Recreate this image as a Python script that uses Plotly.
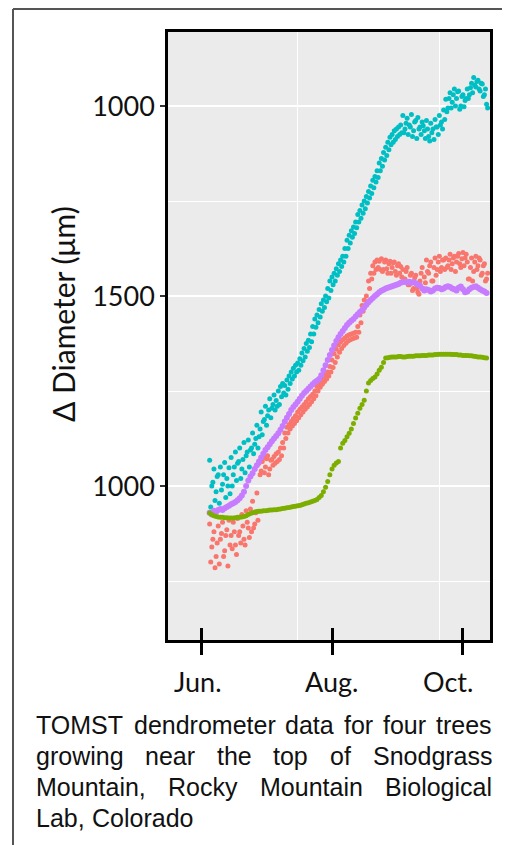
import plotly.graph_objects as go
import pandas as pd

# ---------------- data (one or two readings per day, from Jun 5) ----------------
first_day = "2019-06-05"

teal_hi = [1068, 1000, 1045, 985, 1030, 1050, 1005, 1062, 1020, 1048,
           1075, 1030, 1090, 1060, 1100, 1045, 1115, 1080, 1121, 1095,
           1140, 1110, 1160, 1130, 1195, 1170, 1210, 1185, 1230, 1205,
           1240, 1225, 1250, 1262, 1270, 1265, 1279, 1290, 1300, 1310,
           1318, 1324, 1335, 1350, 1362, 1375, 1384, 1400, 1420, 1440,
           1450, 1465, 1480, 1490, 1500, 1520, 1540, 1550, 1560, 1572,
           1585, 1595, 1605, 1625, 1647, 1660, 1672, 1682, 1695, 1715,
           1725, 1740, 1750, 1762, 1775, 1790, 1805, 1815, 1830, 1850,
           1862, 1878, 1892, 1905, 1918, 1925, 1935, 1940, 1945, 1950,
           1975, 1940, 1968, 1950, 1978, 1935, 1962, 1970, 1945, 1958,
           1935, 1962, 1920, 1955, 1940, 1965, 1945, 1975, 1958, 1990,
           2018, 1995, 2035, 2010, 2045, 2020, 2040, 2000, 2030, 2015,
           2045, 2030, 2060, 2075, 2050, 2068, 2040, 2058, 2030, 2005]
teal_lo = [945, 1010, 962, 1025, 955, 990, 1030, 970, 1000, 980,
           1000, 1050, 1015, 1065, 1020, 1070, 1035, 1090, 1050, 1100,
           1085, 1125, 1100, 1150, 1135, 1175, 1160, 1200, 1180, 1215,
           1200, 1210, 1215, 1235, 1245, 1240, 1255, 1270, 1282, 1290,
           1300, 1305, 1318, 1330, 1340, 1355, 1365, 1380, 1400, 1418,
           1430, 1445, 1460, 1470, 1485, 1495, 1515, 1530, 1540, 1555,
           1565, 1578, 1590, 1605, 1625, 1640, 1655, 1665, 1680, 1695,
           1705, 1718, 1730, 1745, 1758, 1770, 1785, 1800, 1812, 1830,
           1842, 1858, 1870, 1885, 1898, 1905, 1912, 1920, 1925, 1930,
           1930, 1955, 1925, 1945, 1920, 1958, 1915, 1940, 1925, 1948,
           1915, 1940, 1908, 1930, 1912, 1945, 1925, 1950, 1940, 1965,
           1985, 2020, 1995, 2030, 2000, 2038, 1992, 2025, 1998, 2020,
           2020, 2048, 2035, 2055, 2065, 2045, 2060, 2025, 2045, 1995]

red_hi = [900, 840, 880, 815, 895, 860, 905, 830, 885, 910,
          870, 905, 845, 915, 880, 925, 860, 935, 890, 940,
          960, 900, 982, 1060, 1040, 1075, 1050, 1080, 1045, 1070,
          1078, 1085, 1090, 1100, 1115, 1140, 1155, 1162, 1170, 1178,
          1185, 1195, 1202, 1208, 1215, 1222, 1230, 1236, 1242, 1250,
          1262, 1272, 1280, 1287, 1293, 1300, 1315, 1332, 1348, 1360,
          1372, 1380, 1385, 1390, 1395, 1398, 1400, 1402, 1405, 1420,
          1450, 1475, 1490, 1500, 1540, 1560, 1580, 1590, 1595, 1592,
          1598, 1570, 1595, 1560, 1592, 1575, 1590, 1555, 1585, 1578,
          1570, 1545, 1575, 1530, 1560, 1520, 1555, 1510, 1540, 1575,
          1550, 1595, 1560, 1590, 1540, 1600, 1570, 1605, 1575, 1595,
          1600, 1580, 1610, 1585, 1605, 1590, 1612, 1575, 1615, 1600,
          1590, 1545, 1600, 1565, 1605, 1580, 1595, 1560, 1585, 1545]
red_lo = [800, 860, 785, 850, 795, 875, 815, 870, 790, 845,
          835, 880, 820, 870, 850, 895, 845, 905, 865, 880,
          890, 930, 910, 1030, 1065, 1035, 1072, 1030, 1068, 1055,
          1060, 1065, 1070, 1080, 1100, 1125, 1140, 1150, 1158, 1165,
          1172, 1180, 1188, 1195, 1202, 1208, 1215, 1222, 1230, 1238,
          1250, 1260, 1268, 1275, 1282, 1290, 1300, 1312, 1325, 1340,
          1352, 1362, 1370, 1376, 1382, 1385, 1388, 1390, 1392, 1405,
          1430, 1460, 1475, 1485, 1520, 1545, 1560, 1570, 1575, 1570,
          1565, 1590, 1572, 1585, 1560, 1588, 1565, 1580, 1560, 1550,
          1545, 1565, 1530, 1555, 1515, 1548, 1520, 1505, 1560, 1520,
          1535, 1565, 1580, 1540, 1575, 1555, 1590, 1565, 1595, 1570,
          1575, 1595, 1570, 1600, 1565, 1605, 1585, 1598, 1580, 1610,
          1545, 1575, 1540, 1590, 1570, 1600, 1555, 1580, 1540, 1560]

purple = [930, 925, 935, 932, 937, 940, 937, 942, 945, 948,
          952, 955, 958, 963, 968, 975, 985, 1000, 1015, 1025,
          1034, 1045, 1055, 1065, 1075, 1085, 1095, 1102, 1110, 1118,
          1125, 1132, 1139, 1148, 1158, 1170, 1180, 1190, 1200, 1208,
          1215, 1222, 1230, 1238, 1245, 1250, 1256, 1262, 1268, 1273,
          1277, 1282, 1292, 1305, 1318, 1332, 1345, 1358, 1370, 1382,
          1392, 1400, 1408, 1416, 1424, 1430, 1435, 1440, 1446, 1452,
          1458, 1463, 1470, 1477, 1484, 1490, 1495, 1500, 1505, 1510,
          1514, 1517, 1520, 1522, 1524, 1526, 1528, 1530, 1532, 1535,
          1537, 1538, 1536, 1538, 1535, 1537, 1534, 1530, 1528, 1520,
          1515, 1518, 1516, 1512, 1515, 1520, 1522, 1521, 1518, 1520,
          1524, 1526, 1524, 1520, 1518, 1515, 1522, 1525, 1518, 1510,
          1512, 1518, 1522, 1524, 1526, 1522, 1518, 1515, 1512, 1508]

green = [929, 925, 922, 920, 919, 918, 918, 917, 917, 916,
         916, 916, 917, 918, 918, 919, 920, 922, 925, 928,
         930, 932, 933, 934, 934, 935, 935, 936, 937, 937,
         938, 938, 939, 940, 941, 942, 943, 944, 945, 946,
         947, 948, 949, 951, 953, 955, 956, 958, 960, 962,
         965, 970, 975, 985, 997, 1012, 1030, 1045, 1055, 1061,
         1065, 1100, 1113, 1120, 1130, 1139, 1150, 1165, 1179, 1192,
         1205, 1215, 1226, 1250, 1271, 1278, 1283, 1287, 1295, 1305,
         1313, 1325, 1337, 1338, 1339, 1340, 1340, 1340, 1341, 1341,
         1340, 1340, 1341, 1342, 1342, 1342, 1343, 1343, 1343, 1344,
         1344, 1344, 1345, 1345, 1345, 1346, 1346, 1347, 1347, 1347,
         1347, 1347, 1347, 1346, 1346, 1346, 1345, 1345, 1344, 1344,
         1344, 1343, 1343, 1342, 1341, 1340, 1340, 1339, 1338, 1337]

x_tick_dates = ["2019-06-01", "2019-08-01", "2019-10-01"]
x_tick_labels = ["Jun.", "Aug.", "Oct."]
y_tick_vals = [1000, 1500, 2000]
y_tick_labels = ["1000", "1500", "1000"]
y_title = "Δ Diameter (μm)"
caption_lines = ["TOMST dendrometer data for four trees",
                 "growing near the top of Snodgrass",
                 "Mountain, Rocky Mountain Biological",
                 "Lab, Colorado"]

# ---------------- figure ----------------
OFF = 8                       # page body margin
W, H = 510 - OFF, 845 - OFF
L, R, T, B = 168 - OFF, 20, 32 - OFF, 205
PW, PH = W - L - R, H - T - B


def px(x):                    # page pixel -> paper
    return (x - OFF - L) / PW


def py(y):
    return (H - B - (y - OFF)) / PH


days_am = pd.date_range(first_day, periods=len(purple), freq="D")
days_pm = days_am + pd.Timedelta(hours=12)

colors = {"red": "#F8766D", "green": "#7CAE00", "teal": "#00BFC4", "purple": "#C77CFF"}

fig = go.Figure()


def add(x, y, c, s):
    fig.add_trace(go.Scatter(x=x, y=y, mode="markers", showlegend=False, hoverinfo="skip",
                             marker=dict(color=c, size=s, line=dict(width=0))))


add(days_am, red_hi, colors["red"], 5)
add(days_pm, red_lo, colors["red"], 5)
add(days_am, teal_hi, colors["teal"], 5)
add(days_pm, teal_lo, colors["teal"], 5)
add(days_am, purple, colors["purple"], 6)
add(days_am, green, colors["green"], 5)
fig.add_trace(go.Scatter(x=[], y=[], xaxis="x2", showlegend=False))

base = pd.Timestamp("2019-06-01")
xr = [base + pd.Timedelta(days=-15.4), base + pd.Timedelta(days=134.6)]
grid_x = [base + pd.Timedelta(days=44.7), base + pd.Timedelta(days=111.3)]

fig.update_layout(
    width=W, height=H, margin=dict(l=L, r=R, t=T, b=B),
    paper_bgcolor="white", plot_bgcolor="#EBEBEB",
    xaxis=dict(type="date", range=xr, tickvals=x_tick_dates, showticklabels=False,
               ticks="outside", ticklen=12, tickwidth=2.5, tickcolor="black",
               showgrid=False, zeroline=False,
               showline=True, linecolor="black", linewidth=2.5, mirror=True,
               minor=dict(tickvals=grid_x, showgrid=True, gridcolor="white", gridwidth=1.3, ticks="")),
    xaxis2=dict(type="date", range=xr, overlaying="x", anchor="y", side="bottom",
                tickvals=x_tick_dates, showticklabels=False, ticks="inside", ticklen=12,
                tickwidth=2.5, tickcolor="black", showgrid=False, showline=False, zeroline=False),
    yaxis=dict(range=[595, 2195], tickvals=y_tick_vals, ticktext=y_tick_labels,
               ticks="outside", ticklen=5, tickwidth=1.5, tickcolor="#333",
               tickfont=dict(family="Lato", size=27, color="#111"),
               showgrid=True, gridcolor="white", gridwidth=1.5, zeroline=False,
               showline=True, linecolor="black", linewidth=2.5, mirror=True,
               minor=dict(tickvals=[750, 1250, 1750], showgrid=True, gridcolor="white",
                          gridwidth=1.1, ticks="")),
)

ann = []
# x tick labels
for d, lab, sh in zip(x_tick_dates, x_tick_labels, [-3, -1, -15]):
    ann.append(dict(x=d, xref="x", y=py(681), yref="paper", text=lab, showarrow=False,
                    xanchor="center", yanchor="middle", xshift=sh,
                    font=dict(family="Lato", size=27, color="#111")))
# y title
ann.append(dict(x=px(63), y=py(314), xref="paper", yref="paper", text=y_title, textangle=-90,
                showarrow=False, xanchor="center", yanchor="middle",
                font=dict(family="Lato", size=30, color="#111")))

# caption, justified with Arial (Liberation Sans) metrics
aw = {' ': 278, 'T': 611, 'O': 778, 'M': 833, 'S': 667, 'd': 556, 'e': 556, 'n': 556, 'r': 333,
      'o': 556, 'm': 833, 't': 278, 'a': 556, 'f': 278, 'u': 556, 'g': 556, 'w': 722, 'i': 222,
      'h': 556, 'p': 556, ',': 278, 'R': 722, 'c': 500, 'k': 500, 'y': 500, 'B': 667, 'l': 222,
      'L': 556, 'C': 722, 's': 500, 'b': 556}
fs = 25
left, right = 35, 491
baselines = [733, 764, 795, 826]
for i, line in enumerate(caption_lines):
    words = line.split(" ")
    widths = [sum(aw.get(ch, 556) for ch in w) * fs / 1000 for w in words]
    if i < len(caption_lines) - 1:
        gap = (right - left - sum(widths)) / (len(words) - 1)
    else:
        gap = aw[' '] * fs / 1000
    xpos = left
    for w, wd in zip(words, widths):
        ann.append(dict(x=px(xpos), y=py(baselines[i] - 8), xref="paper", yref="paper", text=w,
                        showarrow=False, xanchor="left", yanchor="middle", borderpad=0,
                        font=dict(family="Liberation Sans", size=fs, color="#111")))
        xpos += wd + gap
fig.update_layout(annotations=ann)

# outer frame (top and left edges visible)
fig.add_shape(type="line", xref="paper", yref="paper", x0=px(13), x1=px(515), y0=py(9), y1=py(9),
              line=dict(color="#555", width=2))
fig.add_shape(type="line", xref="paper", yref="paper", x0=px(13), x1=px(13), y0=py(9), y1=py(850),
              line=dict(color="#555", width=2))

fig.write_html("out.html")
